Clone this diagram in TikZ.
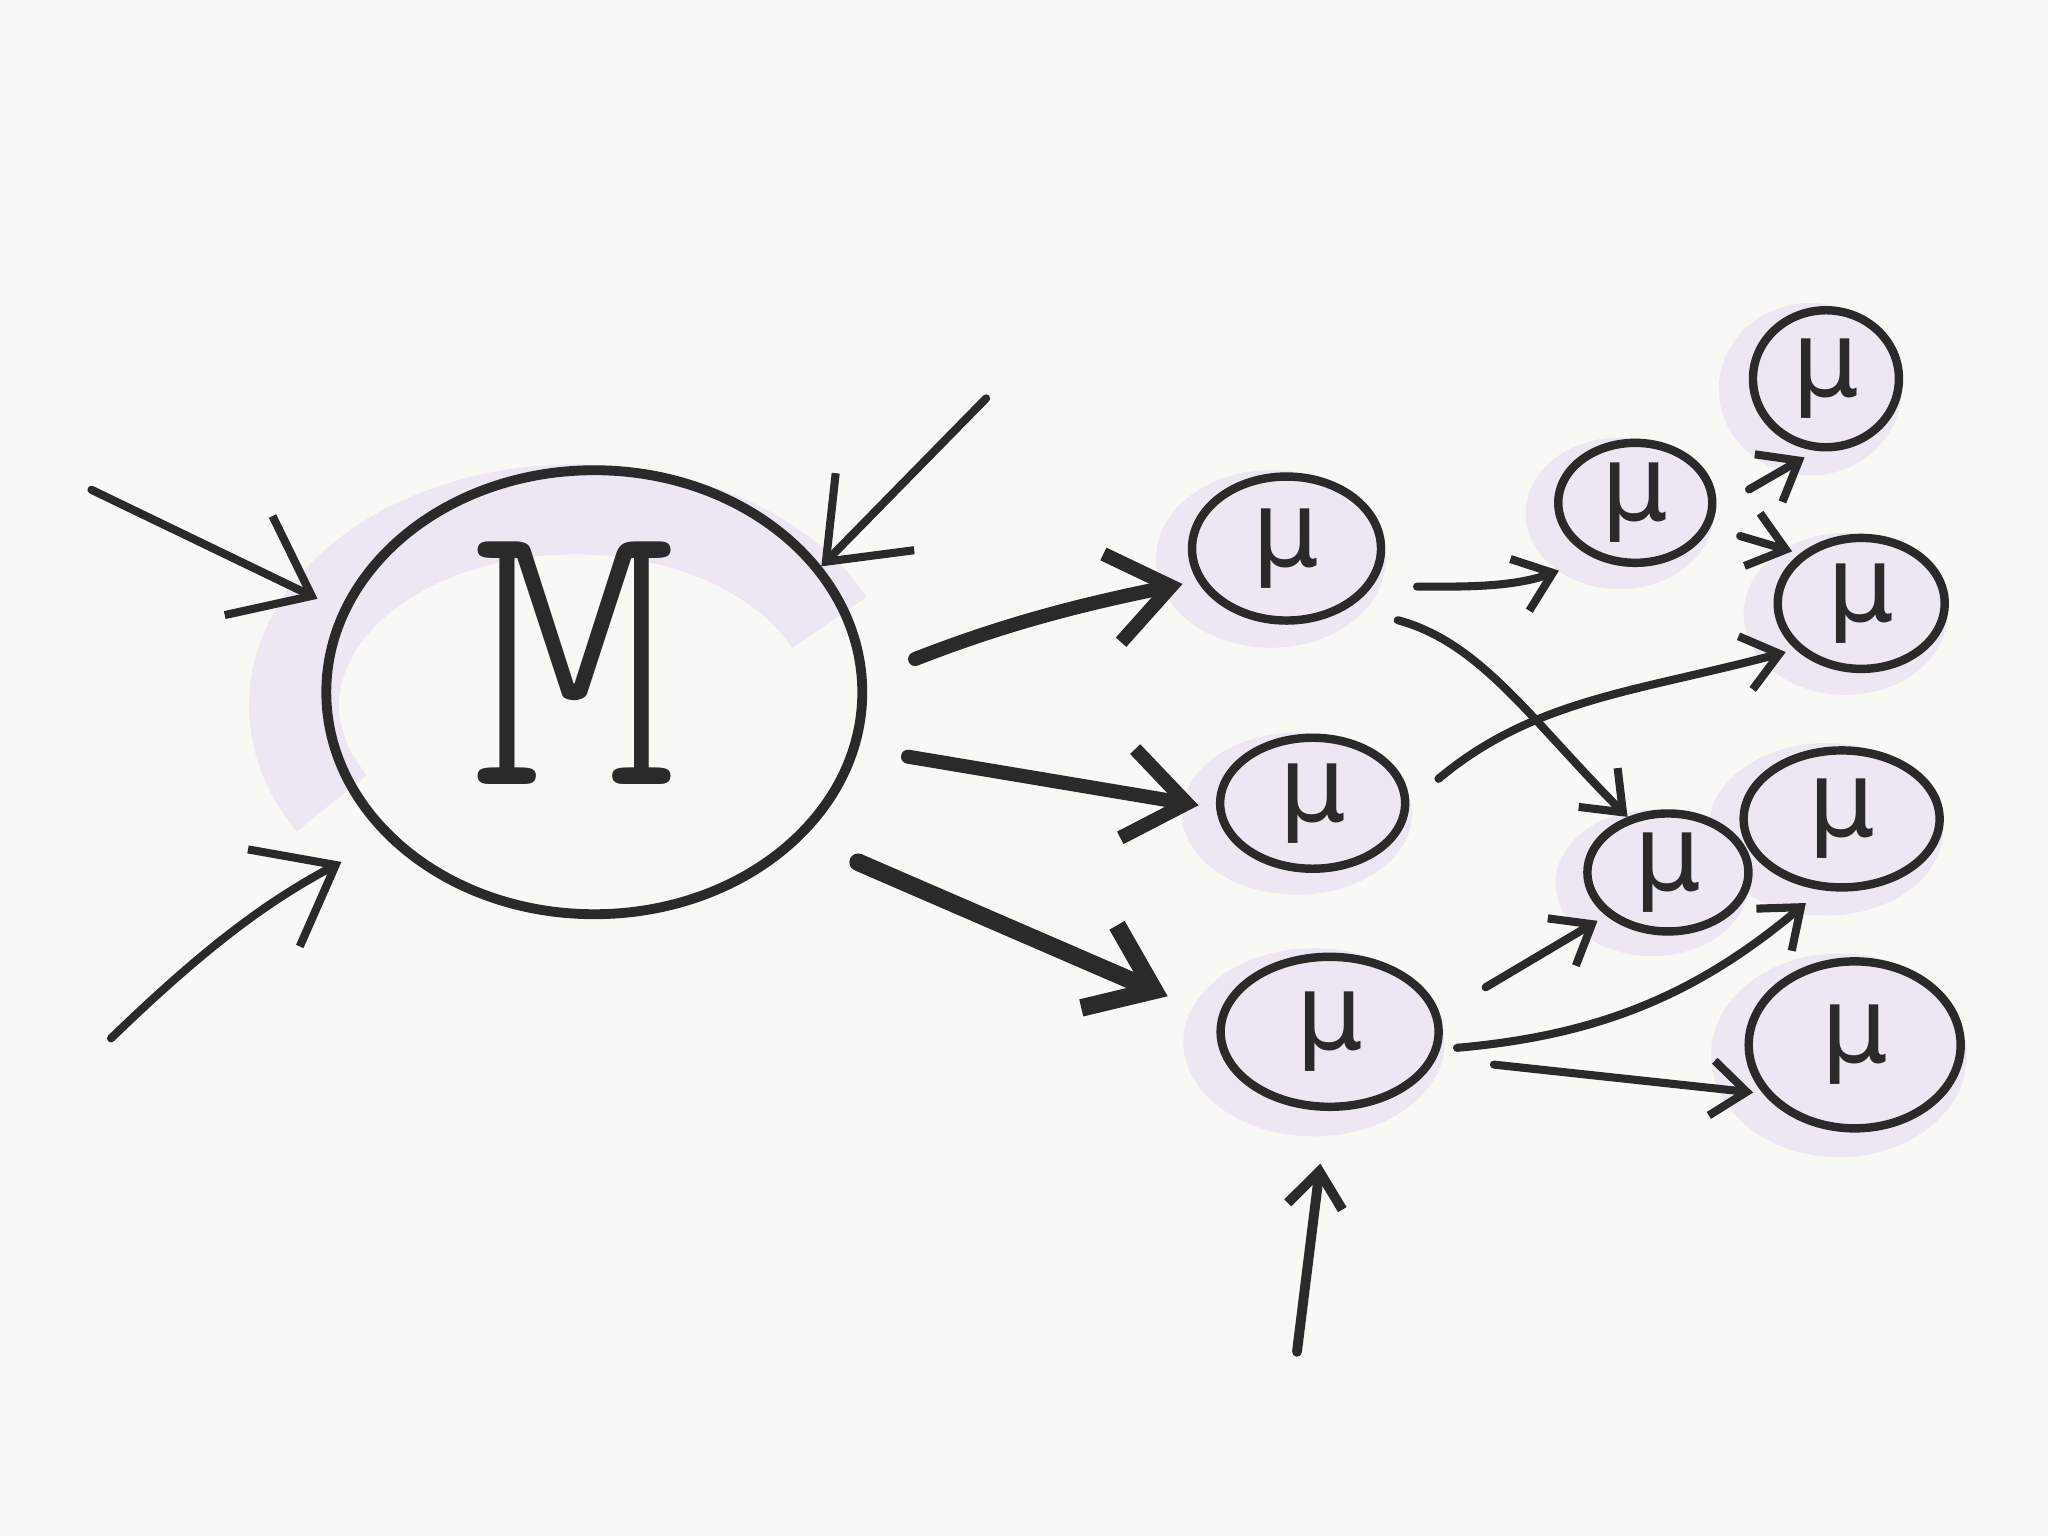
\documentclass[tikz,border=0pt]{standalone}
\usepackage{fontspec}
\usetikzlibrary{shapes.geometric, arrows.meta, backgrounds}
\newfontfamily\mufont{DejaVu Sans}
\newfontfamily\bigmfont{lmmonolt10-regular.otf}
\definecolor{paper}{HTML}{F8F9F4}
\definecolor{ink}{HTML}{2A2A2A}
\definecolor{glow}{HTML}{EDE7F3}
\tikzset{every node/.append style={inner sep=0pt}}

\begin{document}
\begin{tikzpicture}[x=0.013061cm, y=0.013061cm, line cap=round, line join=round,
    blob/.style={ellipse, draw=ink, line width=2.4pt},
    mu/.style={font=\mufont\fontsize{30}{30}\selectfont, text=ink},
    bigm/.style={font=\bigmfont\fontsize{113}{113}\selectfont, text=ink},
    flow/.style={draw=ink, line width=2.3pt, -{Straight Barb[length=3.5mm, width=5.5mm]}},
    inflow/.style={draw=ink, line width=2.3pt, -{Straight Barb[length=7mm, width=11mm]}},
    bigflow/.style={draw=ink, line width=4pt, -{Straight Barb[length=6mm, width=9mm]}}]
\useasboundingbox (0,0) rectangle (1568,1176);
\node[blob, line width=2.8pt, minimum width=5.36cm, minimum height=4.44cm,
      label={[bigm, xshift=-0.2cm, yshift=0.29cm]center:M}] (M) at (455,646) {};
\node[blob, minimum width=1.89cm, minimum height=1.44cm, label={[mu]center:μ}] (A) at (985,756) {};
\node[blob, minimum width=1.85cm, minimum height=1.31cm, label={[mu]center:μ}] (B) at (1005,561) {};
\node[blob, minimum width=2.18cm, minimum height=1.50cm, label={[mu]center:μ}] (C) at (1018,386) {};
\node[blob, minimum width=1.54cm, minimum height=1.20cm, label={[mu]center:μ}] (D) at (1252,791) {};
\node[blob, minimum width=1.61cm, minimum height=1.18cm, label={[mu]center:μ}] (E) at (1277,508) {};
\node[blob, minimum width=1.46cm, minimum height=1.37cm, label={[mu]center:μ}] (F) at (1398,886) {};
\node[blob, minimum width=1.67cm, minimum height=1.31cm, label={[mu]center:μ}] (G) at (1425,714) {};
\node[blob, minimum width=1.96cm, minimum height=1.37cm, label={[mu]center:μ}] (H) at (1410,549) {};
\node[blob, minimum width=2.12cm, minimum height=1.67cm, label={[mu]center:μ}] (I) at (1420,376) {};
\coordinate (w1) at (70,801);
\coordinate (w2) at (85,381);
\coordinate (w3) at (755,871);
\coordinate (q) at (993,141);
% into the big blob
\draw[inflow, shorten >=0.25cm] (w1) -- (M.162);
\draw[inflow, shorten >=0.5cm] (w2) to[bend left=8] (M.215);
\draw[inflow] (w3) -- (M.29);
% out of the big blob
\draw[bigflow, shorten <=0.52cm, shorten >=0.15cm] (M.3) to[bend left=5] (A.200);
\draw[bigflow, shorten <=0.5cm, shorten >=0.18cm] (M.-12) -- (B.183);
\draw[bigflow, line width=5pt, shorten <=0.6cm, shorten >=0.55cm] (M.-35) -- (C.173);
% between the small ones
\draw[flow, shorten <=0.45cm, shorten >=0.37cm] (A.-24) to[out=0, in=200] (D.233);
\draw[flow, shorten <=0.5cm] (A.-43) to[out=-15, in=135] (E.126);
\draw[flow, shorten <=0.38cm, shorten >=0.1cm] (B.0) to[out=40, in=195] (G.215);
\draw[flow, shorten <=0.53cm, shorten >=0.1cm] (C.9) -- (E.215);
\draw[flow, shorten <=0.17cm, shorten >=0.2cm] (C.-9) to[out=5, in=220] (H.254);
\draw[flow, shorten <=0.58cm, shorten >=0.1cm] (C.-14) -- (I.208);
\draw[flow, shorten <=0.38cm, shorten >=0.13cm] (D.-4) -- (F.262);
\draw[flow, shorten <=0.31cm, shorten >=0.08cm] (D.-18) -- (G.141);
\draw[flow, line width=2.8pt, shorten >=0.53cm] (q) -- (C.268);
\begin{scope}[on background layer]
  \fill[paper] (0,0) rectangle (1568,1176);
  \draw[glow, line width=0.9cm] (254,561) arc[start angle=210, end angle=25, x radius=215, y radius=150];
  \fill[glow, shift={(A)}] (-12,-8) ellipse [x radius=88, y radius=68];
  \fill[glow, shift={(B)}] (-12,-8) ellipse [x radius=88, y radius=62];
  \fill[glow, shift={(C)}] (-12,-8) ellipse [x radius=100, y radius=72];
  \fill[glow, shift={(D)}] (-12,-8) ellipse [x radius=72, y radius=58];
  \fill[glow, shift={(E)}] (-12,-8) ellipse [x radius=74, y radius=56];
  \fill[glow, shift={(F)}] (-12,-8) ellipse [x radius=70, y radius=66];
  \fill[glow, shift={(G)}] (-12,-8) ellipse [x radius=78, y radius=62];
  \fill[glow, shift={(H)}] (-12,-8) ellipse [x radius=90, y radius=66];
  \fill[glow, shift={(I)}] (-12,-8) ellipse [x radius=98, y radius=78];
\end{scope}
\end{tikzpicture}
\end{document}
